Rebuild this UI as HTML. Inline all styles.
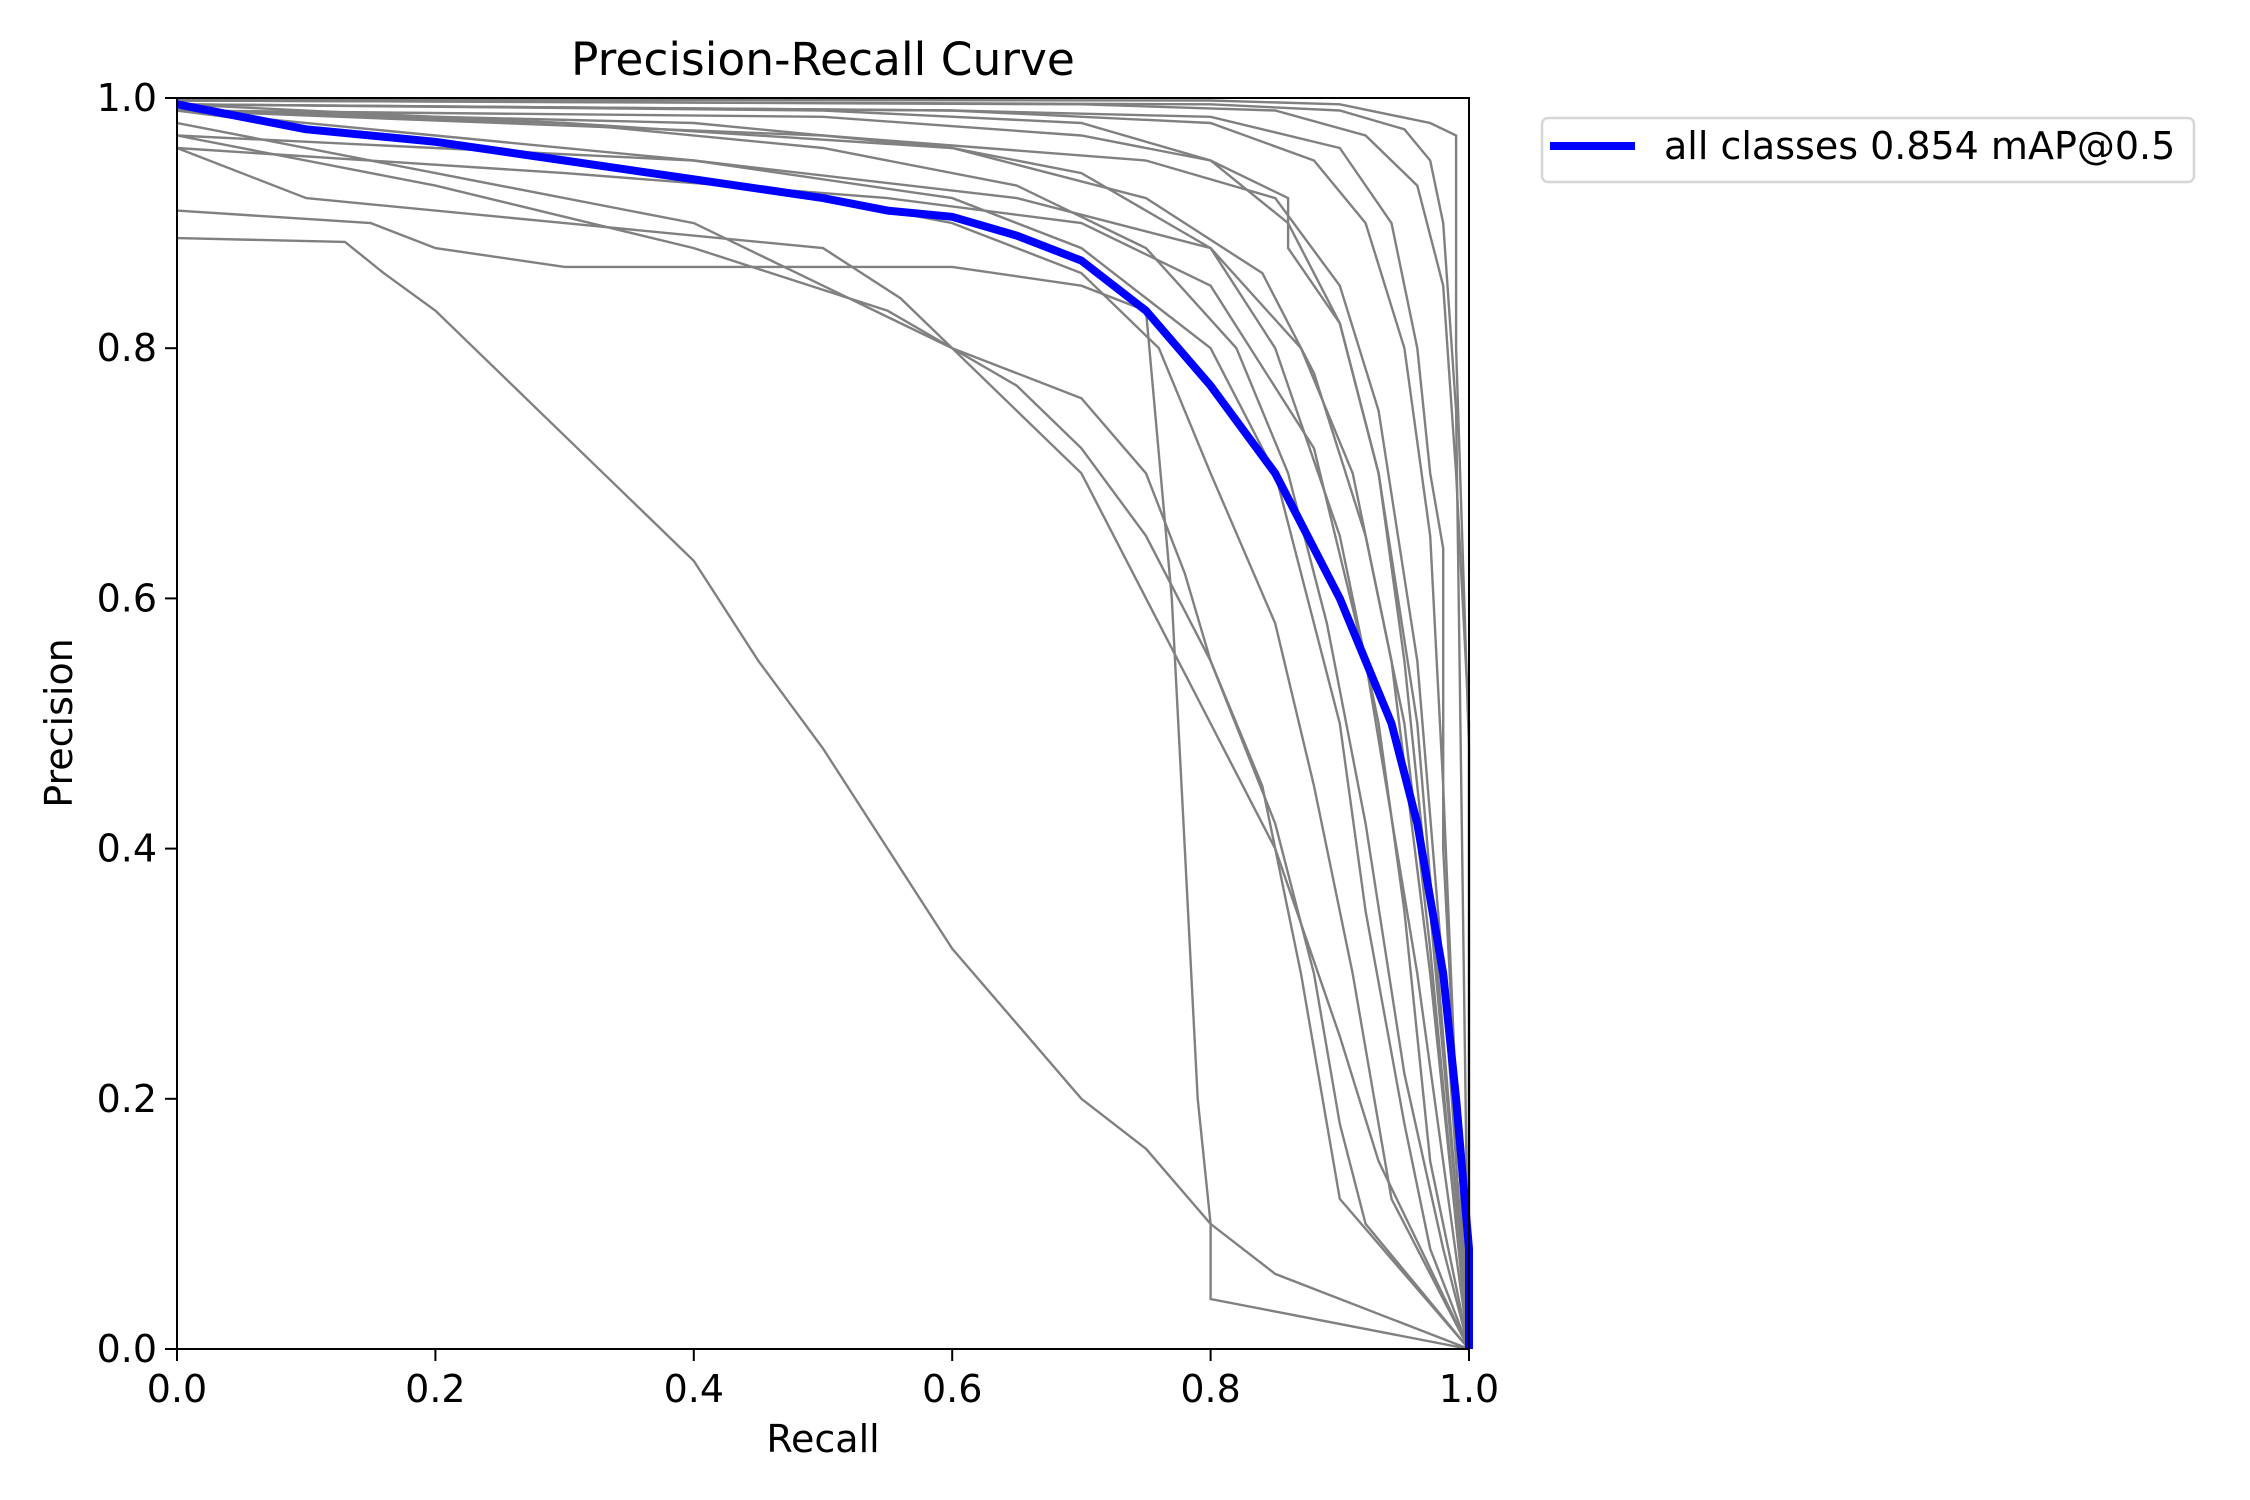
<!DOCTYPE html>
<html><head><meta charset="utf-8"><style>
html,body{margin:0;padding:0;background:#fff}
svg{display:block}
text{font-family:"DejaVu Sans","Liberation Sans",sans-serif;fill:#000}
</style></head><body>
<svg id="chart" width="2250" height="1500" viewBox="0 0 2250 1500" xmlns="http://www.w3.org/2000/svg">
<rect width="2250" height="1500" fill="#fff"/>
<text x="823" y="75" font-size="45.5" text-anchor="middle">Precision-Recall Curve</text>
<g id="grey"></g>
<g id="blue"></g>
<rect x="177" y="98" width="1292" height="1251" fill="none" stroke="#000" stroke-width="2"/>
<g id="axes"></g>
<text x="823" y="1452" font-size="38" text-anchor="middle">Recall</text>
<text transform="translate(72,723) rotate(-90)" font-size="38" text-anchor="middle">Precision</text>
<g>
<rect x="1542" y="118" width="652" height="64" rx="6" fill="#fff" stroke="#d6d6d6" stroke-width="2.5"/>
<line x1="1550" y1="146" x2="1635" y2="146" stroke="#0000ff" stroke-width="8"/>
<text x="1664" y="159" font-size="38">all classes 0.854 mAP@0.5</text>
</g>
</svg>
<script>
const xTicks=[0,0.2,0.4,0.6,0.8,1.0];
const yTicks=[0,0.2,0.4,0.6,0.8,1.0];
const tickLabels=["0.0","0.2","0.4","0.6","0.8","1.0"];
const allRecall=[0,0.05,0.1,0.2,0.3,0.4,0.5,0.55,0.6,0.65,0.7,0.75,0.8,0.85,0.88,0.9,0.92,0.94,0.96,0.98,0.99,1.0,1.0];
const allPrecision=[0.995,0.985,0.975,0.965,0.95,0.935,0.92,0.91,0.905,0.89,0.87,0.83,0.77,0.70,0.64,0.60,0.55,0.50,0.42,0.30,0.20,0.08,0];
const classRecall=[
[0,0.13,0.16,0.2,0.25,0.3,0.35,0.4,0.45,0.5,0.55,0.6,0.65,0.7,0.75,0.8,0.85,1],
[0,0.15,0.2,0.3,0.45,0.6,0.7,0.75,0.77,0.78,0.79,0.8,0.8,1],
[0,0.2,0.4,0.5,0.6,0.65,0.7,0.75,0.8,0.85,0.9,0.93,1],
[0,0.2,0.4,0.55,0.65,0.7,0.75,0.8,0.85,0.88,0.9,0.92,1],
[0,0.1,0.3,0.5,0.56,0.6,0.7,0.75,0.78,0.8,0.84,0.87,0.9,1],
[0,0.3,0.5,0.6,0.7,0.76,0.8,0.85,0.88,0.91,0.94,1],
[0,0.2,0.4,0.6,0.7,0.8,0.85,0.9,0.92,0.95,0.97,1],
[0,0.3,0.5,0.65,0.75,0.82,0.86,0.89,0.92,0.95,0.98,1],
[0,0.4,0.6,0.7,0.8,0.85,0.9,0.93,0.95,0.97,1],
[0,0.5,0.7,0.8,0.86,0.9,0.93,0.95,0.97,0.99,1],
[0,0.3,0.6,0.75,0.84,0.88,0.92,0.95,0.97,0.99,1],
[0,0.5,0.7,0.8,0.86,0.86,0.9,0.93,0.96,0.98,1],
[0,0.6,0.8,0.88,0.92,0.95,0.97,0.98,0.99,1],
[0,0.6,0.8,0.9,0.94,0.96,0.97,0.98,0.98,1],
[0,0.7,0.85,0.92,0.96,0.98,0.99,1,1],
[0,0.8,0.9,0.95,0.97,0.98,0.99,1],
[0,0.8,0.9,0.97,0.99,0.99,1,1],
[0,0.5,0.75,0.85,0.9,0.93,0.96,0.98,1],
[0,0.4,0.65,0.8,0.87,0.91,0.94,0.97,1],
[0,0.3,0.55,0.7,0.8,0.88,0.92,0.96,1]
];
const classPrecision=[
[0.888,0.885,0.86,0.83,0.78,0.73,0.68,0.63,0.55,0.48,0.40,0.32,0.26,0.20,0.16,0.10,0.06,0],
[0.91,0.90,0.88,0.865,0.865,0.865,0.85,0.83,0.6,0.4,0.2,0.1,0.04,0],
[0.98,0.94,0.90,0.85,0.80,0.75,0.70,0.60,0.50,0.40,0.25,0.15,0],
[0.97,0.93,0.88,0.83,0.77,0.72,0.65,0.55,0.42,0.30,0.18,0.10,0],
[0.96,0.92,0.90,0.88,0.84,0.80,0.76,0.70,0.62,0.55,0.45,0.30,0.12,0],
[0.99,0.95,0.92,0.90,0.86,0.80,0.70,0.58,0.45,0.30,0.12,0],
[0.99,0.97,0.95,0.92,0.88,0.80,0.70,0.50,0.35,0.18,0.08,0],
[0.995,0.98,0.96,0.93,0.88,0.80,0.70,0.58,0.42,0.22,0.08,0],
[0.99,0.98,0.96,0.94,0.88,0.80,0.65,0.50,0.35,0.15,0],
[0.995,0.99,0.98,0.95,0.90,0.82,0.70,0.55,0.35,0.12,0],
[0.99,0.98,0.96,0.92,0.86,0.78,0.65,0.50,0.32,0.10,0],
[0.99,0.985,0.97,0.95,0.92,0.88,0.82,0.70,0.50,0.25,0],
[0.995,0.99,0.98,0.95,0.90,0.80,0.65,0.45,0.20,0],
[0.995,0.99,0.985,0.96,0.90,0.80,0.70,0.64,0.40,0],
[0.998,0.995,0.99,0.97,0.93,0.85,0.70,0.50,0],
[0.998,0.995,0.99,0.975,0.95,0.90,0.75,0],
[0.999,0.998,0.995,0.98,0.97,0.80,0.48,0],
[0.99,0.97,0.95,0.92,0.85,0.75,0.55,0.30,0],
[0.97,0.95,0.92,0.88,0.80,0.70,0.55,0.30,0],
[0.96,0.94,0.92,0.90,0.85,0.72,0.55,0.30,0]
];
const X0=177,X1=1469,Y0=1349,Y1=98;
function sx(r){return X0+r*(X1-X0);}
function sy(p){return Y0-p*(Y0-Y1);}
const NS="http://www.w3.org/2000/svg";
function pts(rs,ps){return rs.map((r,i)=>sx(r).toFixed(1)+","+sy(ps[i]).toFixed(1)).join(" ");}
const grey=document.getElementById("grey");
classRecall.forEach((rs,i)=>{
  const pl=document.createElementNS(NS,"polyline");
  pl.setAttribute("points",pts(rs,classPrecision[i]));
  pl.setAttribute("fill","none");pl.setAttribute("stroke","#808080");pl.setAttribute("stroke-width","2.4");
  
  
  grey.appendChild(pl);
});
const blue=document.getElementById("blue");
const bl=document.createElementNS(NS,"polyline");
bl.setAttribute("points",pts(allRecall,allPrecision));
bl.setAttribute("fill","none");bl.setAttribute("stroke","#0000ff");bl.setAttribute("stroke-width","8");bl.setAttribute("stroke-linejoin","round");


blue.appendChild(bl);
const axes=document.getElementById("axes");
xTicks.forEach((v,i)=>{
  const l=document.createElementNS(NS,"line");
  l.setAttribute("x1",sx(v));l.setAttribute("x2",sx(v));l.setAttribute("y1",Y0);l.setAttribute("y2",Y0+12);l.setAttribute("stroke","#000");l.setAttribute("stroke-width","2");
  
  
  axes.appendChild(l);
  const t=document.createElementNS(NS,"text");
  t.setAttribute("x",sx(v));t.setAttribute("y",Y0+53);t.setAttribute("font-size","38");t.setAttribute("text-anchor","middle");
  t.textContent=tickLabels[i];
  
  
  axes.appendChild(t);
});
yTicks.forEach((v,i)=>{
  const l=document.createElementNS(NS,"line");
  l.setAttribute("x1",X0-12);l.setAttribute("x2",X0);l.setAttribute("y1",sy(v));l.setAttribute("y2",sy(v));l.setAttribute("stroke","#000");l.setAttribute("stroke-width","2");
  
  
  axes.appendChild(l);
  const t=document.createElementNS(NS,"text");
  t.setAttribute("x",X0-20);t.setAttribute("y",sy(v)+13);t.setAttribute("font-size","38");t.setAttribute("text-anchor","end");
  t.textContent=tickLabels[i];
  
  
  axes.appendChild(t);
});
</script>
</body></html>
